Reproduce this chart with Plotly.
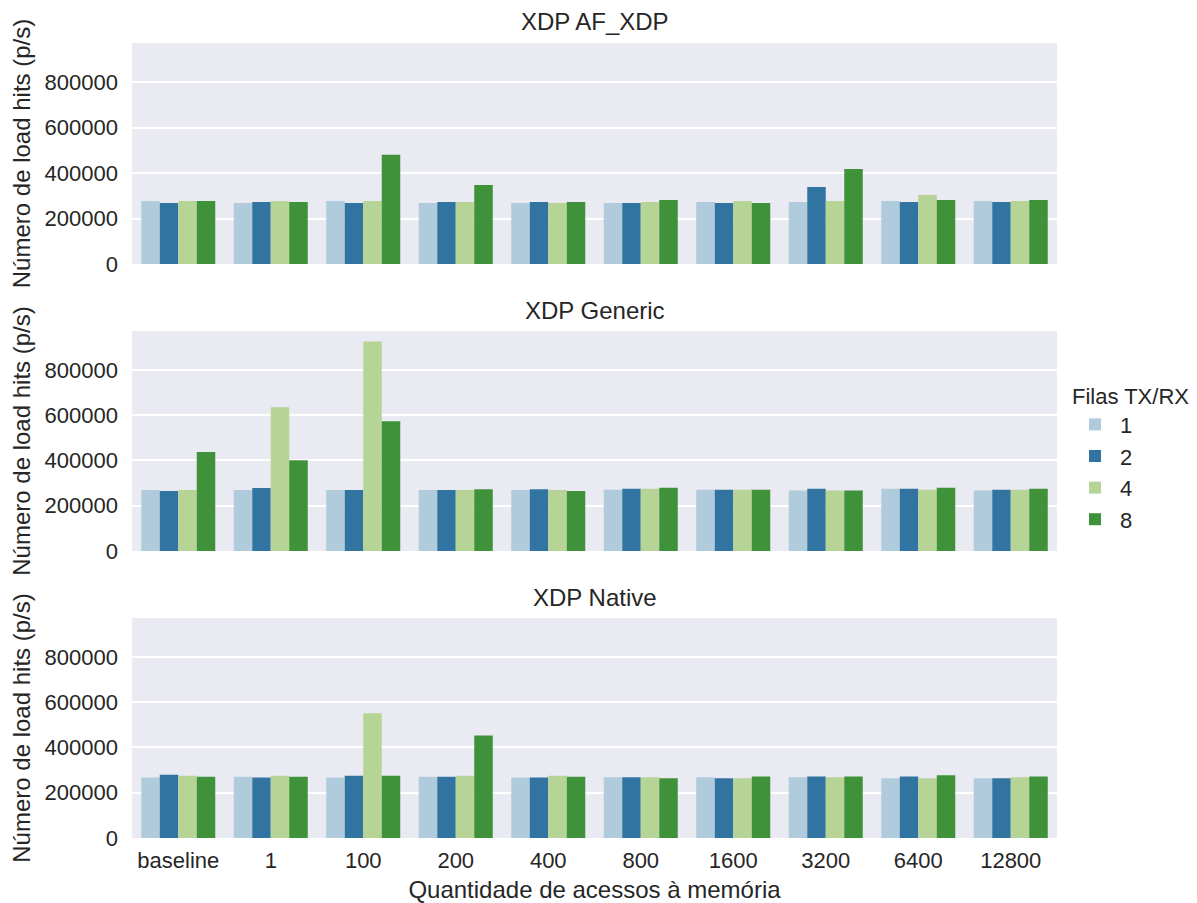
import plotly.graph_objects as go
from plotly.subplots import make_subplots

categories = ["baseline", "1", "100", "200", "400", "800", "1600", "3200", "6400", "12800"]
queues = ["1", "2", "4", "8"]
panel_titles = ["XDP AF_XDP", "XDP Generic", "XDP Native"]

afxdp_q1 = [277000, 268000, 277000, 268000, 268000, 268000, 273000, 273000, 277000, 277000]
afxdp_q2 = [268000, 273000, 268000, 273000, 273000, 268000, 268000, 339000, 273000, 273000]
afxdp_q4 = [277000, 277000, 277000, 273000, 268000, 273000, 277000, 277000, 304000, 277000]
afxdp_q8 = [277000, 273000, 480000, 348000, 273000, 282000, 268000, 418000, 282000, 282000]

generic_q1 = [269000, 269000, 269000, 269000, 269000, 271000, 271000, 267000, 275000, 267000]
generic_q2 = [265000, 278000, 269000, 269000, 273000, 275000, 271000, 275000, 275000, 271000]
generic_q4 = [269000, 635000, 926000, 269000, 269000, 275000, 271000, 267000, 271000, 271000]
generic_q8 = [437000, 401000, 573000, 273000, 265000, 280000, 271000, 267000, 280000, 275000]

native_q1 = [267000, 271000, 267000, 271000, 267000, 268000, 268000, 268000, 264000, 264000]
native_q2 = [280000, 267000, 275000, 271000, 267000, 268000, 264000, 272000, 272000, 264000]
native_q4 = [275000, 275000, 551000, 275000, 275000, 268000, 264000, 268000, 264000, 268000]
native_q8 = [271000, 271000, 275000, 453000, 271000, 264000, 272000, 272000, 277000, 272000]

y_ticks = [0, 200000, 400000, 600000, 800000]

panels = [
    [afxdp_q1, afxdp_q2, afxdp_q4, afxdp_q8],
    [generic_q1, generic_q2, generic_q4, generic_q8],
    [native_q1, native_q2, native_q4, native_q8],
]
colors = ["#afcbdc", "#3274a1", "#b6d496", "#3f9239"]
FONT = "Liberation Sans, Arial, sans-serif"
TXT = "#262626"

fig = make_subplots(rows=3, cols=1, shared_xaxes=True)

for r, series in enumerate(panels, start=1):
    for q, vals, c in zip(queues, series, colors):
        fig.add_trace(
            go.Bar(
                x=categories, y=vals, name=q, marker_color=c, marker_line_width=0,
                legendgroup=q, showlegend=(r == 1), offsetgroup=q,
            ),
            row=r, col=1,
        )

OFF = 8  # page body margin
W, H = 1197 - OFF, 903 - OFF
def px_x(v):
    return (v - OFF) / W
def px_y(v):
    return 1 - (v - OFF) / H

x0, x1 = px_x(132), px_x(1057)
doms = [(264, 43), (551, 331), (838, 618)]

layout_updates = {}
for i, (b, t) in enumerate(doms, start=1):
    yk = "yaxis" if i == 1 else f"yaxis{i}"
    xk = "xaxis" if i == 1 else f"xaxis{i}"
    layout_updates[yk] = dict(
        domain=[px_y(b), px_y(t)], range=[0, 972000], tickvals=y_ticks,
        ticktext=[str(v) for v in y_ticks], showgrid=True, gridcolor="white",
        gridwidth=1.6, zeroline=False, showline=False, ticks="",
        ticklabelstandoff=13, automargin=False,
        tickfont=dict(family=FONT, size=22, color=TXT),
        title=dict(text="Número de load hits (p/s)", font=dict(family=FONT, size=24, color=TXT), standoff=12),
    )
    layout_updates[xk] = dict(
        domain=[x0, x1], showgrid=False, zeroline=False, showline=False, ticks="",
        range=[-0.5, 9.5], showticklabels=(i == 3), ticklabelstandoff=7,
        automargin=False,
        tickfont=dict(family=FONT, size=22, color=TXT),
    )
layout_updates["xaxis3"]["title"] = dict(text="Quantidade de acessos à memória",
                                         font=dict(family=FONT, size=24, color=TXT), standoff=9)

annotations = []
for (b, t), title in zip(doms, panel_titles):
    annotations.append(dict(
        text=title, x=(x0 + x1) / 2, y=px_y(t - 21), xref="paper", yref="paper",
        xanchor="center", yanchor="middle", showarrow=False,
        font=dict(family=FONT, size=24, color=TXT),
    ))

fig.update_layout(
    **layout_updates,
    width=W, height=H, margin=dict(l=0, r=0, t=0, b=0, autoexpand=False),
    paper_bgcolor="white", plot_bgcolor="#eaeaf2",
    barmode="group", bargap=0.2, bargroupgap=0,
    annotations=annotations,
    font=dict(family=FONT, color=TXT),
    legend=dict(
        title=dict(text="Filas TX/RX", font=dict(family=FONT, size=22, color=TXT)),
        font=dict(family=FONT, size=22, color=TXT),
        x=px_x(1070), y=px_y(375), xanchor="left", yanchor="top",
        bgcolor="rgba(0,0,0,0)", tracegroupgap=0, itemwidth=40,
    ),
)

fig.write_html("out.html")
